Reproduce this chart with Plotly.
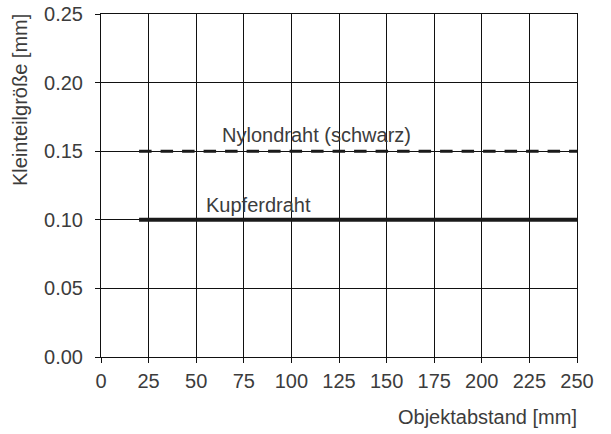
import plotly.graph_objects as go

x_range = [20, 250]
nylon_y = [0.15, 0.15]
kupfer_y = [0.10, 0.10]
x_ticks = [0, 25, 50, 75, 100, 125, 150, 175, 200, 225, 250]
y_ticks = [0.00, 0.05, 0.10, 0.15, 0.20, 0.25]
y_tick_labels = ["0.00", "0.05", "0.10", "0.15", "0.20", "0.25"]

FONT = "Liberation Sans"
TXT = "#3c3c3c"
FS = 20

fig = go.Figure()
fig.add_trace(go.Scatter(x=x_range, y=nylon_y, mode="lines",
                         line=dict(color="#1a1a1a", width=3, dash="12.5px,9px"),
                         showlegend=False, hoverinfo="skip"))
fig.add_trace(go.Scatter(x=x_range, y=kupfer_y, mode="lines",
                         line=dict(color="#1a1a1a", width=4),
                         showlegend=False, hoverinfo="skip"))

fig.add_annotation(x=113.4, y=0.15, text="Nylondraht (schwarz)", showarrow=False,
                   yshift=16, font=dict(family=FONT, size=FS, color=TXT))
fig.add_annotation(x=82.5, y=0.10, text="Kupferdraht", showarrow=False,
                   yshift=15, font=dict(family=FONT, size=FS, color=TXT))

fig.add_annotation(xref="paper", yref="paper", x=1.0, y=0, yshift=-60, xshift=2,
                   text="Objektabstand [mm]", showarrow=False, xanchor="right", yanchor="middle",
                   font=dict(family=FONT, size=FS, color=TXT))
fig.add_annotation(xref="paper", yref="paper", x=0, xshift=-81, y=1.0, yshift=2,
                   text="Kleinteilgröße [mm]", showarrow=False, textangle=-90,
                   xanchor="center", yanchor="top",
                   font=dict(family=FONT, size=FS, color=TXT))

fig.update_xaxes(range=[0, 250], tickvals=x_ticks, showgrid=True, gridcolor="#111", gridwidth=1,
                 ticks="outside", ticklen=5, tickcolor="#111", zeroline=False, automargin=False,
                 showline=True, mirror=True, linecolor="#111", linewidth=1, ticklabelstandoff=1,
                 tickfont=dict(family=FONT, size=FS, color=TXT))
fig.update_yaxes(range=[0, 0.25], tickvals=y_ticks, ticktext=y_tick_labels, showgrid=True,
                 gridcolor="#111", gridwidth=1, ticks="outside", ticklen=5, tickcolor="#111",
                 zeroline=False, showline=True, mirror=True, linecolor="#111", linewidth=1,
                 automargin=False, ticklabelstandoff=8,
                 tickfont=dict(family=FONT, size=FS, color=TXT))

fig.update_layout(width=611, height=434, margin=dict(l=101, r=34, t=14, b=77),
                  plot_bgcolor="white", paper_bgcolor="white", hovermode=False)
fig.write_html("out.html", config={"displayModeBar": False, "staticPlot": True},
               post_script="document.body.style.margin='0';document.body.style.overflow='hidden';")
